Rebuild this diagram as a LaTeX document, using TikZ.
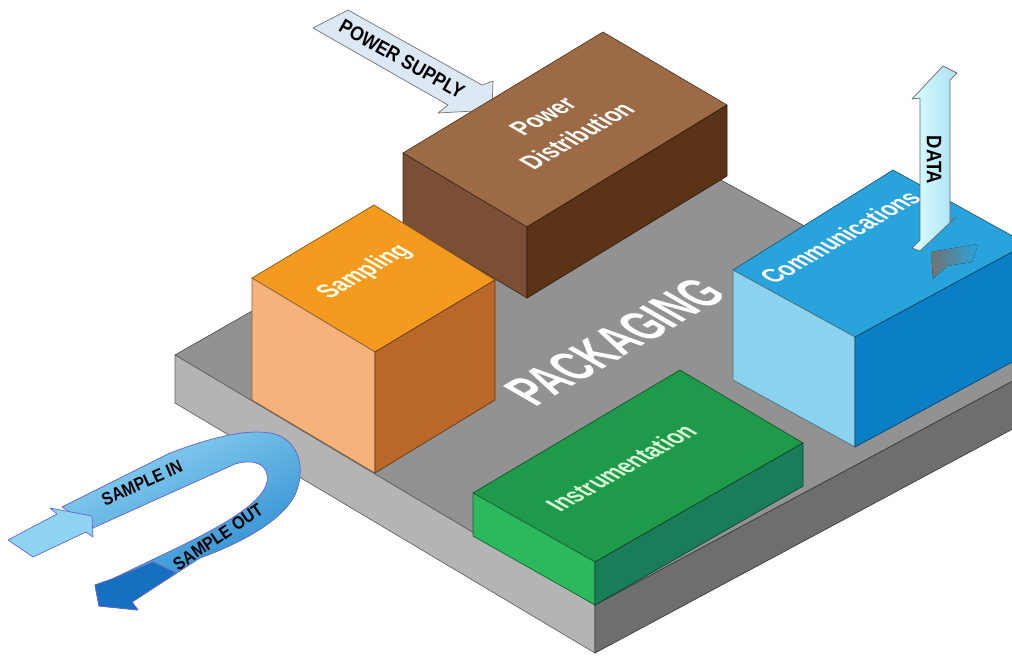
\documentclass[tikz,border=0pt]{standalone}
\usepackage{fontspec}
\newfontfamily\labelfont[FakeStretch=0.88]{Liberation Sans}
\newfontfamily\boardfont[FakeStretch=0.74]{Liberation Sans}

\definecolor{boardtop}{HTML}{929292}
\definecolor{boardleft}{HTML}{B4B4B4}
\definecolor{boardright}{HTML}{6E6E6E}
\definecolor{samptop}{HTML}{F39A1F}
\definecolor{sampleft}{HTML}{F6B27B}
\definecolor{sampright}{HTML}{B9682A}
\definecolor{powtop}{HTML}{9C6A45}
\definecolor{powleft}{HTML}{7A4F35}
\definecolor{powright}{HTML}{5B3418}
\definecolor{comtop}{HTML}{29A3DB}
\definecolor{comleft}{HTML}{8BD2EE}
\definecolor{comright}{HTML}{0B7FC6}
\definecolor{instop}{HTML}{1F9A4B}
\definecolor{insleft}{HTML}{2CB85C}
\definecolor{insright}{HTML}{1A7D5A}
\definecolor{bandlight}{HTML}{8FD3F2}
\definecolor{banddark}{HTML}{1E82CC}
\definecolor{headdark}{HTML}{1570BF}
\definecolor{supplyfill}{HTML}{DDE8F5}

\begin{document}
\begin{tikzpicture}[x=1pt, y=-1pt,
    face/.style={fill=#1, draw=#1!55!black, line width=0.7pt, line join=round},
    toplabel/.style={font=\labelfont\bfseries\fontsize{24}{34}\selectfont,
        text=white, rotate=30, xslant=-0.577, align=center, inner sep=0pt},
    arrowlabel/.style={font=\labelfont\bfseries\fontsize{18}{20}\selectfont,
        text=black, inner sep=0pt}]
    \useasboundingbox (0,0) rectangle (1012,657);
    \clip (0,0) rectangle (1012,657);

    % Packaging board
    \draw[face=boardtop] (175,355) -- (599,113) -- (1050,361) -- (595,605) -- cycle;
    \draw[face=boardleft] (175,355) -- (595,605) -- (595,653) -- (175,403) -- cycle;
    \draw[face=boardright] (595,605) -- (1050,361) -- (1050,409) -- (595,653) -- cycle;
    \node[toplabel, font=\boardfont\bfseries\fontsize{50}{54}\selectfont] (packaging) at (615,342) {PACKAGING};

    % Power supply arrow
    \draw[fill=supplyfill, draw=black!55, line width=0.7pt, line join=round]
        (348,10) -- (482,85) -- (493,81) -- (492,110) -- (438,113) -- (448,105) -- (313,28) -- cycle;
    \node[arrowlabel, font=\labelfont\bfseries\fontsize{20}{22}\selectfont, rotate=-29.5] (supply) at (402,59) {POWER SUPPLY};

    % Power distribution box
    \draw[face=powtop] (403,153) -- (603,32) -- (727,105) -- (527,227) -- cycle;
    \draw[face=powleft] (403,153) -- (527,227) -- (527,298) -- (403,224) -- cycle;
    \draw[face=powright] (527,227) -- (727,105) -- (727,176) -- (527,298) -- cycle;

    % Sampling box
    \draw[face=samptop] (252,278) -- (374,205) -- (495,280) -- (375,352) -- cycle;
    \draw[face=sampleft] (252,278) -- (375,352) -- (375,473) -- (252,400) -- cycle;
    \draw[face=sampright] (375,352) -- (495,280) -- (495,400) -- (375,473) -- cycle;

    % Communications box
    \draw[face=comtop] (733,270) -- (893,170) -- (1027,244) -- (855,337) -- cycle;
    \draw[face=comleft] (733,270) -- (855,337) -- (855,447) -- (733,380) -- cycle;
    \draw[face=comright] (855,337) -- (1027,244) -- (1027,354) -- (855,447) -- cycle;

    % Instrumentation box
    \draw[face=instop] (473,493) -- (680,370) -- (803,443) -- (595,562) -- cycle;
    \draw[face=insleft] (473,493) -- (595,562) -- (595,605) -- (473,536) -- cycle;
    \draw[face=insright] (595,562) -- (803,443) -- (803,486) -- (595,605) -- cycle;

    % Box labels
    \node[toplabel] (power) at (560,126) {Power\\Distribution};
    \node[toplabel, text=white!90!yellow] (sampling) at (365,272) {Sampling};
    \node[toplabel] (comms) at (840,237) {Communications};
    \node[toplabel, text=white!85!green] (instr) at (621,468) {Instrumentation};

    % Data arrow with its shadow
    \fill[left color=black!55, right color=comtop] (931,252) -- (978,244) -- (972,262) -- (947,266) -- (933,279) -- cycle;
    \draw[left color=white!85!cyan, right color=comleft!70, draw=black!60, line width=0.7pt, line join=round]
        (943,66) -- (957,73) -- (950,80) -- (950,222) -- (956,217) -- (920,251) -- (912,248)
        -- (920,240) -- (920,98) -- (912,99) -- cycle;
    \node[arrowlabel, font=\labelfont\bfseries\fontsize{21}{23}\selectfont, rotate=-90] (data) at (934,160) {DATA};

    % Sample in / out loop
    \draw[top color=bandlight, bottom color=banddark, shading angle=26, draw=black!40!blue!60, line width=0.7pt, line join=round]
        (62,507) -- (170,453) .. controls (215,436) and (250,428) .. (275,434)
        .. controls (300,442) and (306,470) .. (295,495)
        .. controls (285,515) and (255,538) .. (200,558) -- (132,602) -- (138,610) -- (99,606)
        -- (95,585) -- (112,579) -- (160,556) .. controls (215,530) and (262,505) .. (267,482)
        .. controls (270,465) and (255,458) .. (235,464) -- (93,528) -- cycle;
    \draw[fill=headdark, draw=black!40!blue!60, line width=0.7pt, line join=round]
        (153,562) -- (112,579) -- (95,585) -- (99,606) -- (138,610) -- (132,602) -- (176,573) -- cycle;
    \draw[fill=bandlight, draw=black!40!blue!60, line width=0.7pt, line join=round]
        (8,540) -- (57,514) -- (50,508) -- (92,516) -- (93,537) -- (86,532) -- (33,557) -- cycle;
    \node[arrowlabel, rotate=24] (samplein) at (142,483) {SAMPLE IN};
    \node[arrowlabel, rotate=34] (sampleout) at (218,537) {SAMPLE OUT};

\end{tikzpicture}
\end{document}
